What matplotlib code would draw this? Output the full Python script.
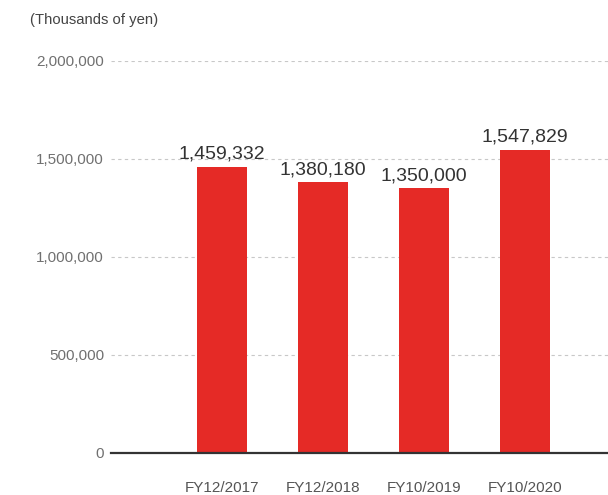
import matplotlib.pyplot as plt

categories = ["FY12/2017", "FY12/2018", "FY10/2019", "FY10/2020"]
values = [1459332, 1380180, 1350000, 1547829]
yticks = [0, 500000, 1000000, 1500000, 2000000]

plt.rcParams['font.family'] = ['Liberation Sans', 'DejaVu Sans']

fig = plt.figure(figsize=(6.08, 4.95), dpi=100)
ax = fig.add_axes([111 / 608, 42 / 495, 497 / 608, 392 / 495])

x = list(range(len(categories)))
ax.bar(x, values, width=0.495, color='#e52a26', zorder=3)

for xi, v in zip(x, values):
    ax.annotate(f"{v:,}", (xi, v), xytext=(0, 3), textcoords='offset points',
                ha='center', va='bottom', fontsize=14, color='#333333',
                annotation_clip=False)

ax.set_xlim(-1.1, 3.82)
ax.set_ylim(0, 2000000)
ax.set_yticks(yticks)
ax.set_yticklabels([f"{t:,}" for t in yticks], fontsize=11, color='#707070')
ax.set_xticks(x)
ax.set_xticklabels(categories, fontsize=11, color='#555555')
ax.tick_params(axis='both', length=0)
ax.tick_params(axis='y', pad=5)
ax.tick_params(axis='x', pad=20)

ax.grid(axis='y', color='#c8c8c8', linestyle=(0, (3, 3)), linewidth=0.8, zorder=0)
for s in ['top', 'right', 'left']:
    ax.spines[s].set_visible(False)
ax.spines['bottom'].set_color('#333333')
ax.spines['bottom'].set_linewidth(1.6)
ax.spines['bottom'].set_zorder(4)

fig.text(30 / 608, 1 - 20 / 495, "(Thousands of yen)", fontsize=10.7, color='#444444',
         ha='left', va='center')

fig.savefig('out.png', dpi=100)
